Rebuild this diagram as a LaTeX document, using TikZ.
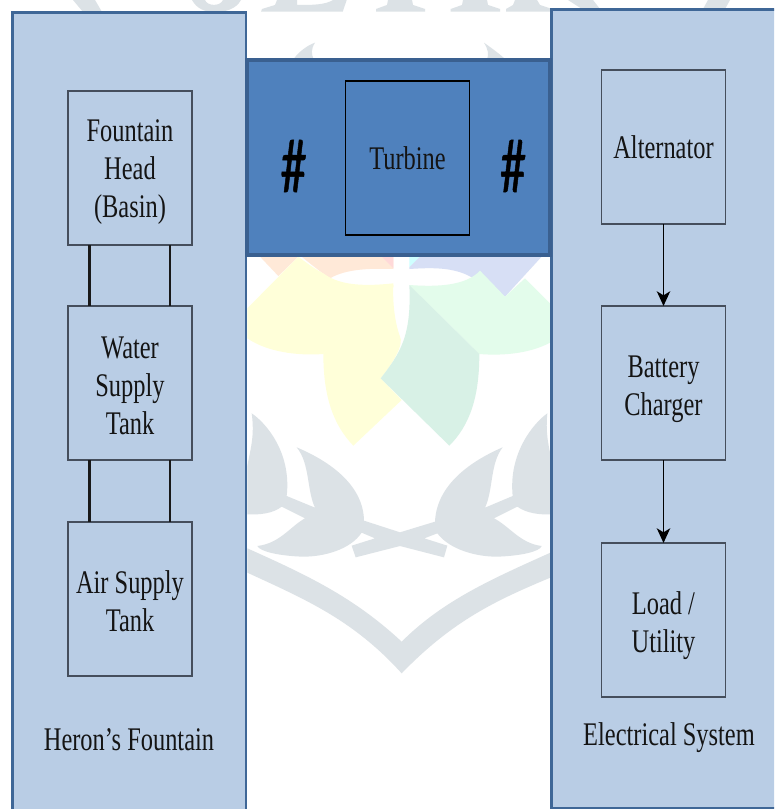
\documentclass[tikz,border=0pt]{standalone}
\usepackage{fontspec}
\setmainfont{Liberation Serif}[FakeStretch=0.74]
\newfontfamily\hashfont{Carlito}[FakeStretch=0.68,FakeBold=0.6]
\usetikzlibrary{arrows.meta,calc}
\newcommand{\dropline}[1]{\rule{0pt}{#1}}
\definecolor{panelfill}{HTML}{B9CDE5}
\definecolor{panelline}{HTML}{3F6797}
\definecolor{bandfill}{HTML}{4F81BD}
\definecolor{bandline}{HTML}{3A6090}
\definecolor{boxline}{HTML}{454E5C}
\definecolor{inkcol}{HTML}{141414}
\definecolor{wmgray}{HTML}{DCE2E6}
\definecolor{wmyellow}{HTML}{FFFFD9}
\definecolor{wmgreen}{HTML}{E3FCEB}
\definecolor{wmteal}{HTML}{D8F1E6}
\definecolor{wmpeach}{HTML}{FFE9D8}
\definecolor{wmlav}{HTML}{D7DFF5}
\definecolor{wmcyan}{HTML}{CFFFFF}
\definecolor{wmpink}{HTML}{FFD9D9}
\tikzset{
  panelbox/.style={draw=panelline,fill=panelfill,line width=1.9pt,inner sep=0pt,outer sep=0pt,anchor=north west},
  bandbox/.style={draw=bandline,fill=bandfill,line width=3pt,inner sep=0pt,outer sep=0pt,anchor=north west},
  stagebox/.style={draw=boxline,line width=1pt,minimum width=93pt,minimum height=115.5pt,inner sep=0pt,outer sep=0pt,align=center,text=inkcol,font=\fontsize{24.75}{28.5}\selectfont},
  turbinebox/.style={stagebox,draw=black},
  caption/.style={inner sep=0pt,text=inkcol,font=\fontsize{24.75}{28.5}\selectfont},
  hashmark/.style={inner sep=0pt,text=black,font=\hashfont\fontsize{58}{58}\selectfont},
  link/.style={draw=black!90,line width=2pt},
  flow/.style={draw=black,line width=1.4pt,-{Stealth[length=11pt,width=10pt,inset=3pt]}}
}
\begin{document}
\begin{tikzpicture}[x=0.75pt,y=-0.75pt]
\useasboundingbox (0,0) rectangle (774,809);
\clip (0,0) rectangle (774,809);
\fill[white] (0,0) rectangle (774,809);
% watermark, top fragments
\fill[wmgray] (73,0)--(83,12)--(102,12)--(95,0)--cycle;
\fill[wmgray,even odd rule] (192,0) .. controls (197,9) and (205,12) .. (215,12) .. controls (226,12) and (236,9) .. (241,0)--cycle
  (205,0) .. controls (207,6) and (220,7) .. (223,0)--cycle;
\fill[wmgray] (261,11.7)--(342.7,11.7)--(346.7,0)--(333,0) .. controls (325,5) and (312,5) .. (297,5)--(297,0)--(277,0)--(275,5)--(262,9)--cycle;
\fill[wmgray] (376,11.7)--(425,11.7)--(425,9)--(413,5)--(412,0)--(388,0)--(387,5)--(376,9)--cycle;
\fill[wmgray] (450.7,11.7)--(500,11.7)--(500,9)--(488,5)--(487,0)--(463,0)--(462,5)--(450.7,9)--cycle;
\fill[wmgray] (506,11.7)--(552,11.7)--(552,9)--(540,5)--(537,0)--(515,0)--(513,5)--(506,9)--cycle;
\fill[wmgray] (568,0)--(582,9)--(600,9)--(593,0)--cycle;
\fill[wmgray] (703,9)--(708,0)--(730,0)--(725,9)--cycle;
\fill[wmgray] (293,60) .. controls (298,52) and (308,45) .. (315,42.7) .. controls (311,49) and (311,54) .. (314,60)--cycle;
\fill[wmgray] (484,42.7) .. controls (490,47) and (500,54) .. (506,60)--(487,60) .. controls (489,54) and (488,49) .. (484,42.7)--cycle;
% watermark, flower and wreath (coordinates in the 3x crop of the central gap)
\begin{scope}[shift={(180pt,-187.5pt)},x=0.25pt,y=-0.25pt]
\fill[wmpeach] (60,20)--(115,78)--(175,20)--cycle;
\fill[wmpeach] (185,20) .. controls (210,40) and (240,65) .. (270,85) .. controls (320,55) and (400,55) .. (460,57)--(460,20)--cycle;
\fill[wmpink] (425,20)--(460,55)--(460,20)--cycle;
\fill[wmcyan] (508,20)--(540,20)--(508,52)--cycle;
\fill[wmlav] (508,57)--(508,52)--(540,20)--(905,20)--(795,140) .. controls (760,115) and (725,95) .. (695,82) .. controls (640,50) and (570,53) .. (508,57)--cycle;
\fill[wmyellow] (175,20)--(22,175)--(22,265) .. controls (80,305) and (170,318) .. (250,312)--(460,110)--(460,100) .. controls (350,112) and (290,100) .. (250,70) .. controls (220,55) and (195,35) .. (175,20)--cycle;
\fill[wmyellow] (250,312) .. controls (250,440) and (280,525) .. (340,587)--(485,450)--(422,385) .. controls (470,325) and (490,280) .. (480,260) .. controls (462,210) and (458,150) .. (460,105)--cycle;
\fill[wmgreen] (508,105) .. controls (600,112) and (680,105) .. (720,62)--(795,140)--(855,85)--(930,160)--(930,278) .. controls (870,310) and (790,318) .. (718,312)--cycle;
\fill[wmteal] (508,105)--(718,312) .. controls (718,440) and (690,525) .. (628,587)--(422,385) .. controls (480,310) and (515,260) .. (508,105)--cycle;
% wreath
\fill[wmgray] (22,650) .. controls (30,600) and (45,560) .. (35,490) .. controls (80,520) and (155,610) .. (140,738)--(225,773) .. controls (200,720) and (210,640) .. (170,592) .. controls (260,630) and (370,700) .. (372,812)--(480,847)--(480,888)--(347,922)--(335,887)--(405,865)--(365,848) .. controls (330,900) and (250,920) .. (190,920) .. controls (120,918) and (60,905) .. (52,888) .. controls (120,880) and (150,830) .. (195,805)--(125,770) .. controls (100,790) and (60,795) .. (22,793)--cycle;
\fill[wmgray] (938,650) .. controls (930,600) and (915,560) .. (922,490) .. controls (880,520) and (805,610) .. (818,738)--(735,773) .. controls (760,720) and (750,640) .. (788,592) .. controls (700,630) and (590,700) .. (585,815)--(480,847)--(480,888)--(612,922)--(622,887)--(553,865)--(592,850) .. controls (630,900) and (710,920) .. (770,920) .. controls (840,918) and (900,905) .. (905,888) .. controls (840,880) and (810,830) .. (762,805)--(832,770) .. controls (860,790) and (900,795) .. (938,793)--cycle;
\fill[wmgray] (22,895) .. controls (200,975) and (340,1040) .. (485,1175) .. controls (610,1050) and (760,985) .. (938,905)--(938,980) .. controls (770,1050) and (640,1110) .. (485,1270) .. controls (340,1110) and (200,1050) .. (22,968)--cycle;
\end{scope}
% panels
\node[panelbox,minimum width=175.2pt,minimum height=615pt] (fountainpanel) at (12.5,12.5) {};
\node[panelbox,minimum width=172pt,minimum height=599pt] (electricpanel) at (551.5,9.5) {};
\node[bandbox,minimum width=227.25pt,minimum height=146.25pt] (turbineband) at (247,60) {};
% stages
\node[stagebox] (head) at (130,168) {\dropline{23pt}Fountain\\Head\\(Basin)};
\node[stagebox] (water) at (130,383) {\dropline{20pt}Water\\Supply\\Tank};
\node[stagebox] (air) at (130,599) {\dropline{20pt}Air Supply\\Tank};
\node[turbinebox] (turbine) at (407.5,158) {\dropline{18pt}Turbine};
\node[stagebox] (alternator) at (663.5,147) {\dropline{18pt}Alternator};
\node[stagebox] (charger) at (663.5,383) {\dropline{26pt}Battery\\Charger};
\node[stagebox] (load) at (663.5,620) {\dropline{25pt}Load /\\Utility};
\node[hashmark] (hashleft) at (293.5,166) {\#};
\node[hashmark] (hashright) at (513,166) {\#};
\node[caption] (fountaincap) at (129,740) {Heron’s Fountain};
\node[caption] (electriccap) at (669,738) {Electrical System};
% connectors
\draw[link] ($(head.south west)!0.173!(head.south east)$) -- ($(water.north west)!0.173!(water.north east)$);
\draw[link] ($(head.south west)!0.823!(head.south east)$) -- ($(water.north west)!0.823!(water.north east)$);
\draw[link] ($(water.south west)!0.173!(water.south east)$) -- ($(air.north west)!0.173!(air.north east)$);
\draw[link] ($(water.south west)!0.823!(water.south east)$) -- ($(air.north west)!0.823!(air.north east)$);
\draw[flow] (alternator.south) -- (charger.north);
\draw[flow] (charger.south) -- (load.north);
\end{tikzpicture}
\end{document}
